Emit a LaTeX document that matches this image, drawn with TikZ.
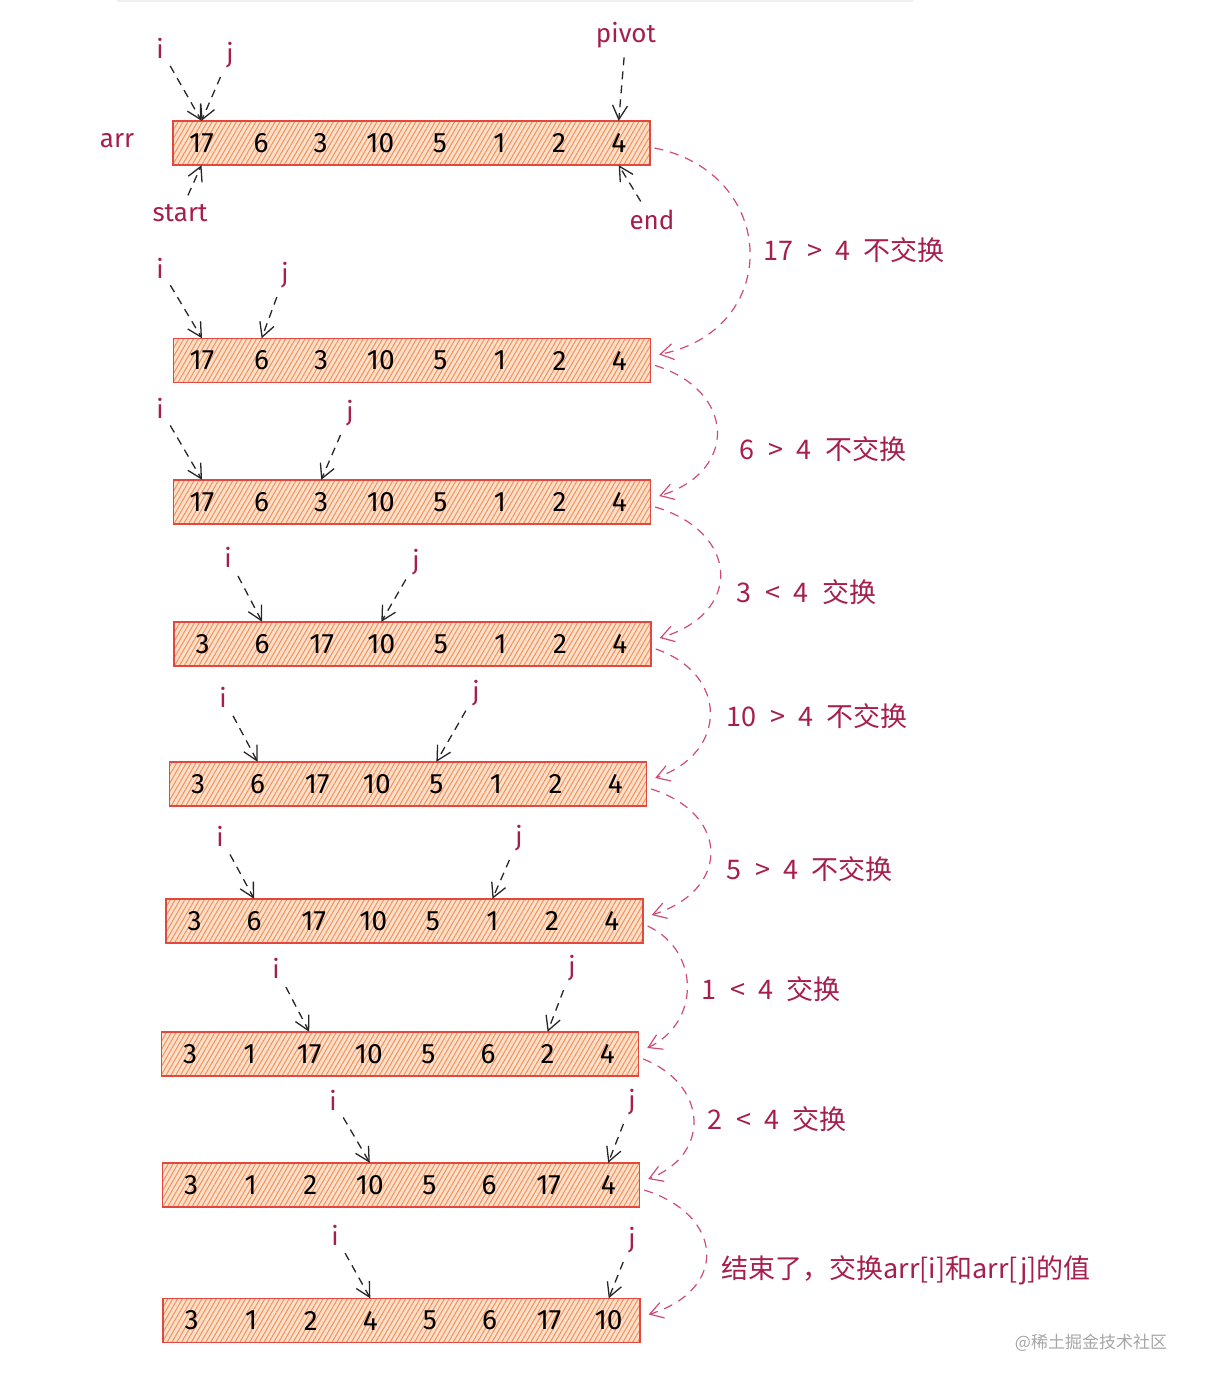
\documentclass[tikz,border=0pt]{standalone}
\usepackage{fontspec}
\setmainfont{Fira Sans}
\newfontfamily\cjk{Noto Sans CJK SC}
\usetikzlibrary{arrows.meta,patterns.meta}
\definecolor{berry}{RGB}{166,30,77}
\definecolor{linkpink}{RGB}{206,74,120}
\definecolor{boxred}{RGB}{226,72,62}
\definecolor{boxfill}{RGB}{253,224,204}
\definecolor{hatch}{RGB}{245,145,85}
\tikzset{
  arraybox/.style={draw=boxred, line width=1.4pt, minimum width=477pt, minimum height=44pt, inner sep=0pt,
    preaction={fill=boxfill}, pattern={Lines[angle=60,distance=4.2pt,line width=1pt]}, pattern color=hatch},
  num/.style={minimum height=44pt, inner sep=0pt, font=\fontsize{28}{28}\selectfont},
  tag/.style={text=berry, font=\fontsize{26}{26}\selectfont},
  note/.style={text=berry, anchor=west, font=\cjk\fontsize{27}{27}\selectfont},
  ptr/.style={draw=black!85, line width=1.3pt, dash pattern=on 8pt off 6pt, shorten <=6pt,
    -{Straight Barb[length=14pt,width=15pt]}},
  link/.style={draw=linkpink, line width=1.2pt, dash pattern=on 9pt off 7pt,
    -{Straight Barb[length=13pt,width=16pt]}}
}
\begin{document}
\begin{tikzpicture}[x=1pt,y=-1pt]
\useasboundingbox (0,0) rectangle (1206,1388);
% card edge on top
\draw[black!6, line width=3pt, line cap=round] (118,1) -- (912,1);

% arrays
\foreach \n/\cx/\cy/\vals in {
  1/411.5/143/{17,6,3,10,5,1,2,4},
  2/412/360.5/{17,6,3,10,5,1,2,4},
  3/412/502/{17,6,3,10,5,1,2,4},
  4/412.5/644/{3,6,17,10,5,1,2,4},
  5/408/784/{3,6,17,10,5,1,2,4},
  6/404.5/921/{3,6,17,10,5,1,2,4},
  7/400/1054/{3,1,17,10,5,6,2,4},
  8/401/1185/{3,1,2,10,5,6,17,4},
  9/401.5/1320.5/{3,1,2,4,5,6,17,10}}{
  \node[arraybox] (a\n) at (\cx,\cy) {};
  \foreach \v [count=\k] in \vals
    \node[num] (a\n-\k) at ([xshift={59.6*(\k-1)-210}]a\n.center) {\v};
}

% i and j
\foreach \n/\ix/\iy/\ik/\jx/\jy/\jk in {
  1/160/48/1/230/55/1,
  2/160/268/1/285/275/2,
  3/160/408/1/350/413/3,
  4/228/557/2/416/562/4,
  5/223/697/2/476/693/5,
  6/220/836/2/519/838/6,
  7/276/968/3/572/968/7,
  8/333/1100/4/632/1102/8,
  9/335/1235/4/632/1240/8}{
  \node[tag] (i\n) at (\ix,\iy) {i};
  \node[tag] (j\n) at (\jx,\jy) {j};
  \draw[ptr] (i\n) -- (a\n-\ik.north);
  \draw[ptr] (j\n) -- (a\n-\jk.north);
}

% first row labels
\node[tag] (arr) at (117,141) {arr};
\node[tag] (pivot) at (626,35) {pivot};
\node[tag] (start) at (180,213) {start};
\node[tag] (end) at (652,220) {end};
\draw[ptr] (pivot) -- (a1-8.north);
\draw[ptr] (start) -- (a1-1.south);
\draw[ptr] (end) -- (a1-8.south);

% steps
\foreach \n/\m/\dx/\lx/\ly/\txt in {
  1/2/124/760/250/{17\enspace>\enspace4\enspace 不交换},
  2/3/80/736/449/{6\enspace>\enspace4\enspace 不交换},
  3/4/84/733/592/{3\enspace<\enspace4\enspace 交换},
  4/5/73/723/716/{10\enspace>\enspace4\enspace 不交换},
  5/6/79/723/869/{5\enspace>\enspace4\enspace 不交换},
  6/7/53/698/989/{1\enspace<\enspace4\enspace 交换},
  7/8/64/704/1119/{2\enspace<\enspace4\enspace 交换},
  8/9/80/718/1270/{结束了，交换arr[i]和arr[j]的值}}{
  \draw[link] ([xshift=4pt,yshift=-5pt]a\n.east) .. controls +(\dx,25) and +(\dx,-25) .. ([xshift=8pt,yshift=6pt]a\m.east);
  \node[note] (c\n) at (\lx,\ly) {\txt};
}

\node[text=black!35, font=\cjk\fontsize{17}{17}\selectfont] (mark) at (1091,1343) {@稀土掘金技术社区};
\end{tikzpicture}
\end{document}
